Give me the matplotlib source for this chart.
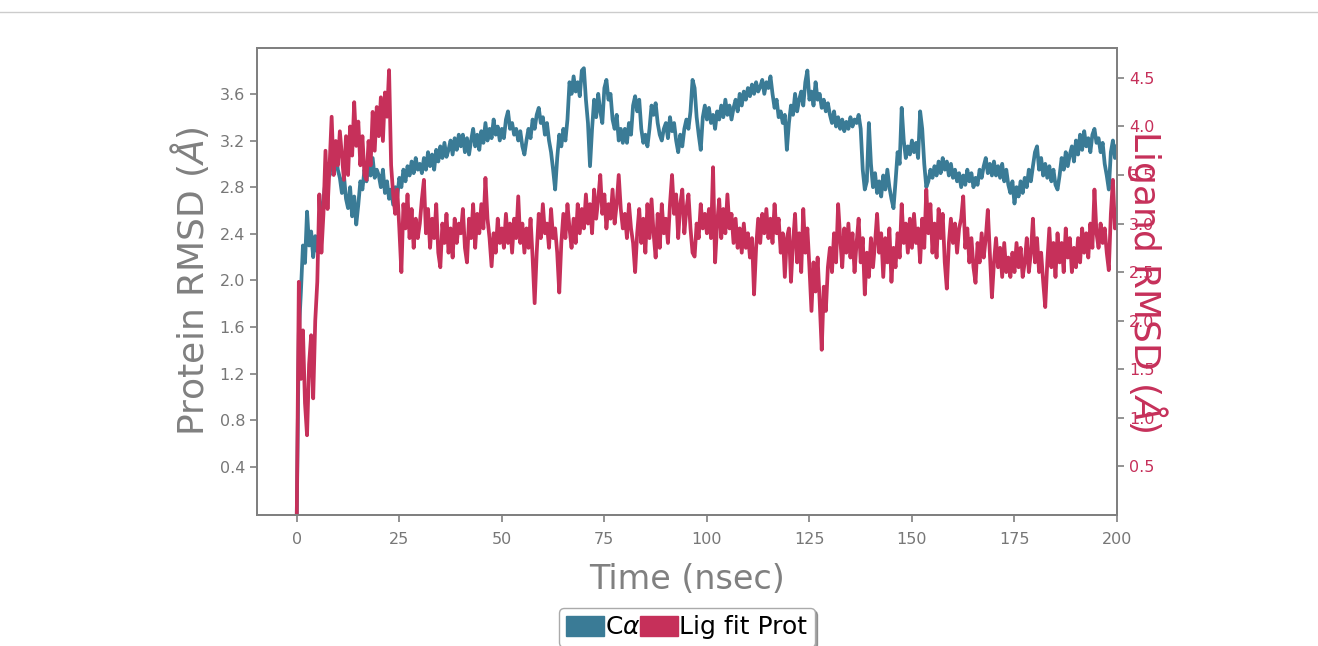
import matplotlib
matplotlib.use("Agg")
import matplotlib.pyplot as plt
from matplotlib.patches import Patch
from matplotlib.lines import Line2D
import numpy as np

# simulation time, sampled every 0.5 ns
time_ns = np.arange(0, 200.5, 0.5)

# protein C-alpha RMSD (A), left axis
prot_rmsd = [
    0.0, 1.55, 1.9, 2.3, 2.15, 2.59, 2.3, 2.42, 2.2, 2.38, 2.25, 2.45, 2.6, 2.7, 2.85, 3.0, 2.9, 3.05, 2.95, 3.1,
    2.95, 2.88, 2.75, 2.9, 2.7, 2.62, 2.8, 2.55, 2.72, 2.48, 2.65, 2.85, 2.78, 2.95, 2.85, 3.0, 2.9, 3.05, 2.88, 2.95,
    2.9, 2.8, 2.95, 2.75, 2.85, 2.7, 2.78, 2.65, 2.8, 2.72, 2.88, 2.8, 2.95, 2.85, 2.98, 2.9, 3.02, 2.92, 3.05, 2.95,
    3.0, 2.92, 3.05, 2.95, 3.1, 2.98, 3.08, 2.95, 3.12, 3.02, 3.15, 3.05, 3.18, 3.06, 3.12, 3.2, 3.08, 3.22, 3.12, 3.25,
    3.15, 3.25, 3.1, 3.22, 3.08, 3.2, 3.3, 3.15, 3.25, 3.12, 3.28, 3.18, 3.35, 3.2, 3.3, 3.22, 3.38, 3.25, 3.32, 3.2,
    3.3, 3.22, 3.38, 3.45, 3.3, 3.35, 3.25, 3.3, 3.2, 3.28, 3.15, 3.08, 3.2, 3.3, 3.22, 3.38, 3.3, 3.42, 3.48, 3.35,
    3.4, 3.25, 3.35, 3.2, 3.1, 2.95, 2.78, 3.05, 3.25, 3.15, 3.3, 3.2, 3.38, 3.7, 3.6, 3.75, 3.62, 3.7, 3.58, 3.8,
    3.82, 3.55, 3.35, 2.98, 3.3, 3.55, 3.4, 3.6, 3.45, 3.35, 3.65, 3.72, 3.55, 3.6, 3.38, 3.3, 3.42, 3.2, 3.3, 3.18,
    3.3, 3.18, 3.35, 3.25, 3.5, 3.58, 3.45, 3.55, 3.3, 3.18, 3.25, 3.15, 3.3, 3.5, 3.42, 3.52, 3.35, 3.25, 3.2, 3.3,
    3.35, 3.22, 3.4, 3.28, 3.35, 3.2, 3.1, 3.25, 3.15, 3.3, 3.38, 3.3, 3.45, 3.72, 3.65, 3.4, 3.25, 3.12, 3.4, 3.5,
    3.38, 3.48, 3.35, 3.42, 3.3, 3.45, 3.38, 3.5, 3.4, 3.55, 3.42, 3.5, 3.38, 3.48, 3.55, 3.45, 3.6, 3.5, 3.62, 3.55,
    3.65, 3.58, 3.68, 3.6, 3.7, 3.62, 3.66, 3.72, 3.6, 3.7, 3.65, 3.75, 3.6, 3.48, 3.55, 3.4, 3.45, 3.35, 3.42, 3.12,
    3.35, 3.5, 3.42, 3.6, 3.45, 3.55, 3.62, 3.5, 3.7, 3.8, 3.55, 3.62, 3.5, 3.7, 3.55, 3.6, 3.48, 3.55, 3.45, 3.52,
    3.42, 3.35, 3.45, 3.32, 3.4, 3.3, 3.38, 3.28, 3.36, 3.3, 3.4, 3.32, 3.38, 3.35, 3.42, 3.3, 2.95, 2.78, 2.85, 3.35,
    3.0, 2.8, 2.92, 2.75, 2.85, 2.72, 2.9, 2.78, 2.95, 2.8, 2.7, 2.62, 2.85, 3.1, 3.0, 3.48, 3.2, 3.05, 3.15, 3.08,
    3.2, 3.1, 3.18, 3.05, 3.45, 3.3, 3.0, 2.8, 2.85, 2.95, 2.88, 2.98, 2.9, 3.02, 2.92, 3.05, 2.95, 3.02, 2.9, 3.0,
    2.88, 2.95, 2.85, 2.92, 2.8, 2.9, 2.82, 2.95, 2.85, 2.92, 2.8, 2.88, 2.82, 2.95, 2.88, 2.98, 3.05, 2.92, 3.0, 2.9,
    3.02, 2.9, 2.98, 2.88, 3.0, 2.85, 2.95, 2.82, 2.75, 2.85, 2.66, 2.8, 2.72, 2.85, 2.75, 2.88, 2.8, 2.95, 2.85, 2.98,
    3.1, 3.15, 2.95, 3.05, 2.9, 3.0, 2.88, 2.98, 2.85, 2.95, 2.82, 2.78, 2.9, 3.05, 2.95, 3.1, 2.98, 3.08, 3.15, 3.02,
    3.2, 3.08, 3.25, 3.12, 3.28, 3.15, 3.22, 3.1, 3.25, 3.3, 3.18, 3.22, 3.1, 3.18, 3.0, 2.9, 2.78, 3.1, 3.2, 3.05,
    3.15,
]

# ligand RMSD fitted on protein (A), right axis
lig_rmsd = [
    0.0, 2.4, 1.4, 1.9, 1.15, 0.82, 1.55, 1.85, 1.2, 2.0, 2.4, 3.3, 2.7, 3.1, 3.75, 3.15, 3.6, 4.1, 3.5, 3.85,
    3.6, 3.95, 3.7, 3.45, 3.9, 3.5, 4.0, 3.7, 4.25, 3.8, 4.05, 3.6, 3.9, 3.5, 3.45, 3.85, 3.6, 4.15, 3.75, 4.2,
    3.9, 4.3, 3.85, 4.35, 4.1, 4.58, 3.6, 3.3, 3.1, 3.35, 2.95, 2.5, 3.2, 2.95, 3.3, 2.85, 3.15, 2.75, 3.05, 2.85,
    3.0, 3.25, 3.45, 2.9, 3.15, 2.75, 3.05, 2.85, 3.2, 2.7, 2.55, 3.0, 2.8, 3.1, 2.7, 2.95, 2.65, 3.05, 2.8, 3.0,
    2.9, 3.15, 2.75, 2.6, 3.05, 2.85, 3.2, 2.75, 3.1, 2.9, 3.2, 2.95, 3.47, 3.05, 2.85, 2.56, 2.9, 2.7, 3.05, 2.8,
    2.95, 2.75, 3.1, 2.8, 3.0, 2.7, 3.05, 2.85, 3.28, 2.8, 3.0, 2.7, 2.95, 2.75, 3.05, 2.65, 2.18, 2.7, 3.1, 2.85,
    3.2, 2.9, 3.0, 2.75, 3.15, 2.85, 2.95, 2.7, 2.29, 2.8, 3.1, 2.85, 3.2, 2.95, 2.75, 3.05, 2.8, 3.2, 2.9, 3.15,
    2.95, 3.3, 3.0, 3.2, 2.9, 3.35, 3.05, 3.25, 3.5, 3.1, 3.3, 2.95, 3.2, 3.05, 3.35, 3.0, 3.2, 3.5, 3.15, 2.95,
    3.1, 2.85, 3.2, 2.95, 2.8, 2.5, 2.9, 3.15, 2.8, 3.05, 2.7, 3.2, 2.85, 3.25, 2.9, 2.65, 3.1, 2.75, 3.2, 2.9,
    3.05, 2.8, 3.2, 3.5, 3.1, 3.3, 2.85, 3.2, 3.35, 2.9, 3.15, 3.3, 2.95, 2.7, 2.66, 3.0, 2.85, 3.2, 2.95, 3.1,
    2.9, 3.15, 2.85, 3.58, 2.6, 3.0, 3.25, 2.85, 3.15, 2.9, 3.3, 2.95, 3.1, 2.8, 3.05, 2.75, 2.95, 2.7, 3.0, 2.75,
    2.9, 2.65, 2.85, 2.27, 2.75, 3.05, 2.8, 3.1, 2.9, 3.15, 2.85, 3.05, 2.8, 3.2, 2.9, 3.05, 2.7, 2.9, 2.45, 2.85,
    2.95, 2.4, 2.8, 3.1, 2.6, 2.9, 2.5, 3.15, 2.7, 2.95, 2.55, 2.1, 2.6, 2.3, 2.65, 2.2, 1.7, 2.35, 2.1, 2.55,
    2.75, 2.5, 2.9, 2.6, 3.2, 2.85, 2.55, 2.95, 2.7, 3.0, 2.65, 2.9, 2.5, 2.8, 3.05, 2.6, 2.85, 2.27, 2.7, 2.45,
    2.85, 2.55, 2.8, 3.1, 2.7, 2.9, 2.45, 2.85, 2.6, 2.95, 2.4, 2.75, 2.55, 2.9, 2.65, 3.2, 2.8, 3.0, 2.7, 3.05,
    2.75, 3.1, 2.8, 2.95, 2.6, 3.05, 2.75, 3.35, 2.9, 3.2, 2.7, 3.0, 2.65, 3.15, 2.85, 3.1, 2.6, 2.33, 2.8, 3.05,
    2.8, 3.0, 2.7, 2.95, 3.05, 3.28, 2.75, 2.95, 2.6, 2.85, 2.55, 2.39, 2.8, 2.6, 2.9, 2.65, 2.85, 3.14, 2.7, 2.24,
    2.6, 2.85, 2.55, 2.75, 2.45, 2.8, 2.5, 2.65, 2.45, 2.7, 2.5, 2.8, 2.55, 2.75, 2.45, 2.6, 2.85, 2.5, 2.7, 3.05,
    2.6, 2.85, 2.5, 2.7, 2.4, 2.14, 2.6, 2.95, 2.55, 2.8, 2.45, 2.9, 2.6, 2.8, 2.5, 2.95, 2.65, 2.85, 2.5, 2.75,
    2.55, 2.85, 2.6, 2.95, 2.7, 2.9, 2.65, 3.0, 2.75, 3.35, 2.9, 2.75, 3.0, 2.8, 2.95, 2.7, 2.52, 3.1, 3.45, 2.95,
    3.05,
]

x_ticks = [0, 25, 50, 75, 100, 125, 150, 175, 200]
left_ticks = [0.4, 0.8, 1.2, 1.6, 2.0, 2.4, 2.8, 3.2, 3.6]
right_ticks = [0.5, 1.0, 1.5, 2.0, 2.5, 3.0, 3.5, 4.0, 4.5]

blue = "#3a7b96"
red = "#c6305a"
grey = "#808080"

plt.rcParams["font.family"] = ["DejaVu Sans"]

fig = plt.figure(figsize=(13.18, 6.46), dpi=100)
ax = fig.add_axes([0.195, 0.203, 0.6525, 0.723])
ax2 = ax.twinx()

ax.plot(time_ns, prot_rmsd, color=blue, lw=2.7)
ax2.plot(time_ns, lig_rmsd, color=red, lw=2.7)

ax.set_xlim(-9.7, 199.2)
ax.set_ylim(-0.01, 3.995)
ax2.set_ylim(0.0, 4.81)

ax.set_xticks(x_ticks)
ax.set_yticks(left_ticks)
ax2.set_yticks(right_ticks)
ax.set_yticklabels([f"{v:.1f}" for v in left_ticks])
ax2.set_yticklabels([f"{v:.1f}" for v in right_ticks])

for a in (ax, ax2):
    for s in a.spines.values():
        s.set_color(grey)
        s.set_linewidth(1.4)
ax.tick_params(axis="both", colors=grey, labelsize=11.5, length=5, width=1.2, labelcolor="#777777")
ax.tick_params(axis="x", pad=7)
ax2.tick_params(axis="y", colors=grey, labelsize=11.5, length=5, width=1.2, labelcolor=red)

ax.set_xlabel("Time (nsec)", fontsize=24, color=grey, labelpad=12)
ax.set_ylabel(r"Protein RMSD ($\AA$)", fontsize=26, color=grey, labelpad=6)
ax2.set_ylabel(r"Ligand RMSD ($\AA$)", fontsize=26, color=red, rotation=270, labelpad=11)

handles = [Patch(facecolor=blue, edgecolor=blue), Patch(facecolor=red, edgecolor=red)]
leg = fig.legend(handles, [r"C$\alpha$", "Lig fit Prot"], loc="upper center",
                 bbox_to_anchor=(0.521, 0.059), ncol=2, fontsize=18, frameon=True,
                 fancybox=True, shadow=True, handlelength=1.5, handleheight=0.85,
                 handletextpad=0.05, columnspacing=0.0, borderpad=0.3, borderaxespad=0.0)
leg.get_frame().set_edgecolor("#aaaaaa")

fig.add_artist(Line2D([0, 1], [0.981, 0.981], transform=fig.transFigure, color="#cccccc", lw=1))

fig.savefig("out.png", dpi=100)
